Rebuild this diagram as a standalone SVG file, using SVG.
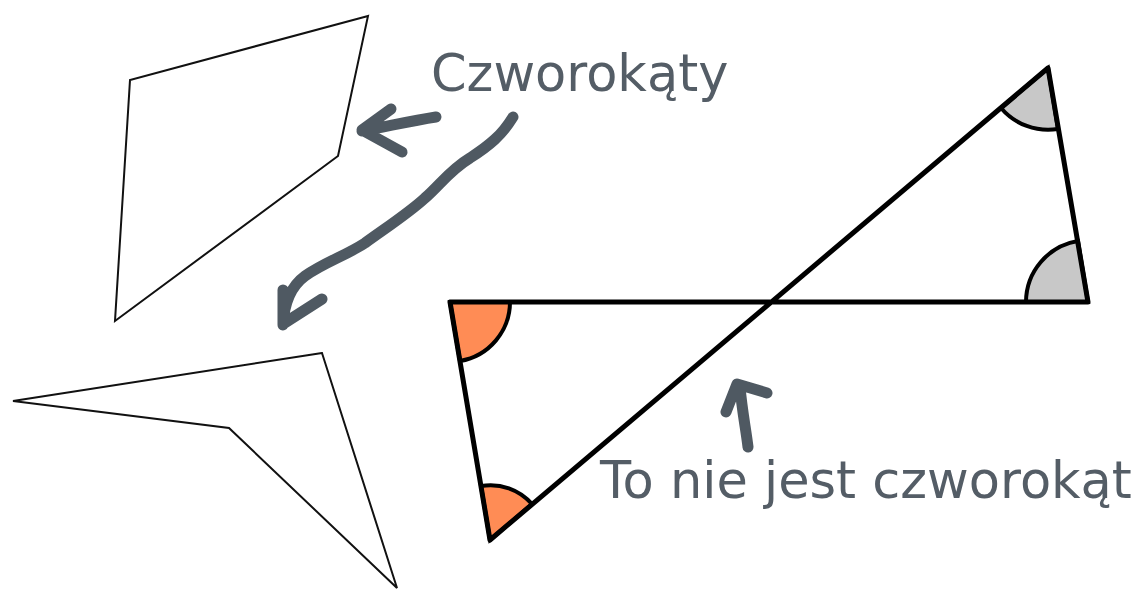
<svg xmlns="http://www.w3.org/2000/svg" width="1143" height="592" viewBox="0 0 1143 592">
<style>
.thin{fill:none;stroke:#111;stroke-width:2;stroke-linejoin:miter}
.thick{fill:none;stroke:#000;stroke-width:5;stroke-linejoin:round;stroke-linecap:round}
.ang{stroke:#000;stroke-width:4}
.orange{fill:#ff8c55}
.gray{fill:#c8c8c8}
.hand{fill:none;stroke:#4f5962;stroke-width:11;stroke-linecap:round;stroke-linejoin:round}
.lbl{font-family:"DejaVu Sans",sans-serif;font-size:51px;fill:#545d66}
</style>
<rect width="1143" height="592" fill="#fff"/>
<g id="quad1"><polygon class="thin" points="368,16 130,80 115,321 338,156"/></g>
<g id="quad2"><polygon class="thin" points="322,353 13,401 229,428 397,588"/></g>
<g id="bowtie">
<path class="ang orange" d="M450,302 L510,302 A60,60 0 0 1 460,361 Z"/>
<path class="ang orange" d="M490,540 L481,486 A55,55 0 0 1 532,504 Z"/>
<path class="ang gray" d="M1048,68 L1001,108 A62,62 0 0 0 1058,129 Z"/>
<path class="ang gray" d="M1088,302 L1026,302 A62,62 0 0 1 1078,241 Z"/>
<path class="thick" d="M450,302 L1088,302 L1048,68 L490,540 Z"/>
</g>
<g id="label-czworokaty"><text class="lbl" x="431" y="91">Czworokąty</text></g>
<g id="label-nie"><text class="lbl" x="600" y="498">To nie jest czworokąt</text></g>
<g id="connectors">
<path class="hand" d="M436,117 C410,121 385,127 362,131 M391,109 L362,130 L402,152"/>
<path class="hand" d="M513,117 C502,135 490,145 470,158 C450,170 440,185 425,198 C410,212 390,225 365,243 C345,256 325,262 305,276 C290,287 284,305 283,325 M283,290 L283,324 L322,299"/>
<path class="hand" d="M748,447 C746,430 742,410 740,387 M726,412 L737,384 L767,393"/>
</g>
</svg>
